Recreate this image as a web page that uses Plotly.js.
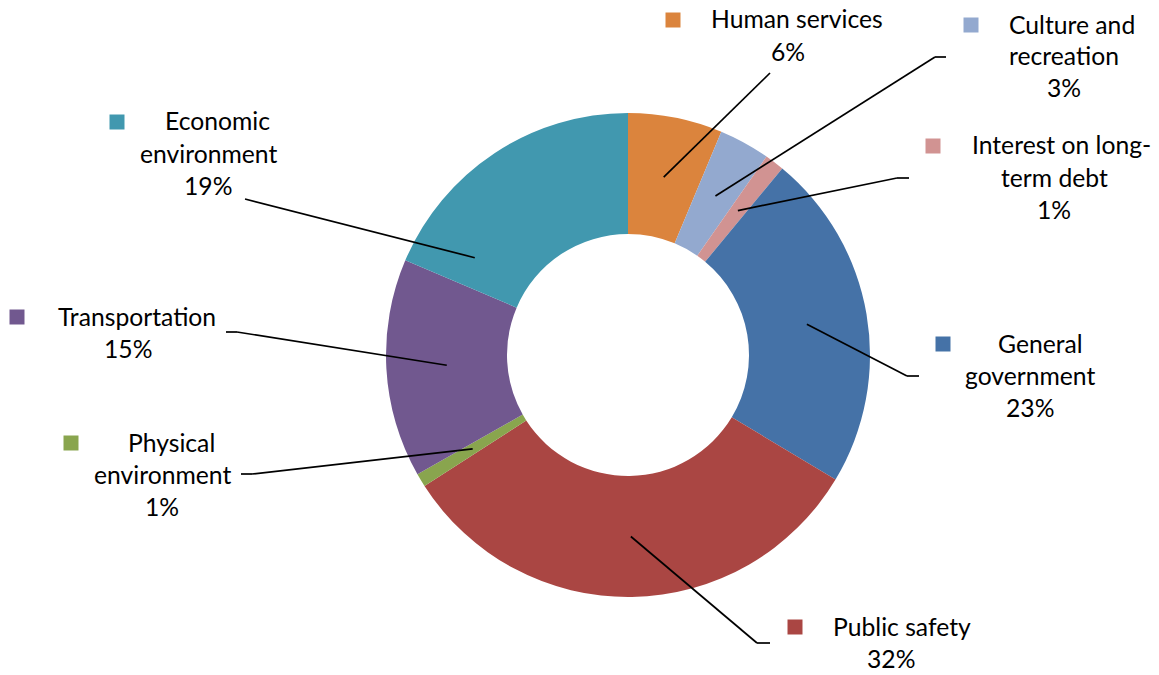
<!DOCTYPE html>
<html>
<head>
<meta charset="utf-8">
<script src="https://cdn.plot.ly/plotly-3.0.1.min.js"></script>
<style>html,body{margin:0;padding:0;background:#fff;}#chart{width:1159px;height:675px;}</style>
</head>
<body>
<div id="chart"></div>
<script>
// ---- data ----
var categories = ["Human services", "Culture and recreation", "Interest on long-term debt", "General government", "Public safety", "Physical environment", "Transportation", "Economic environment"];
var shares = [6.3, 3.4, 1.3, 22.6, 32.3, 0.9, 14.6, 18.6];
var labelLines = [["Human services"], ["Culture and", "recreation"], ["Interest on long-", "term debt"], ["General", "government"], ["Public safety"], ["Physical", "environment"], ["Transportation"], ["Economic", "environment"]];
var colors = ["#DB843D", "#93A9CF", "#D19392", "#4572A7", "#AA4643", "#89A54E", "#71588F", "#4198AF"];

// ---- layout (pixel positions) ----
var W = 1159, H = 675;
var CX = 628, CY = 355, R = 242, HOLE = 0.5;
var keyX = [673, 971, 933, 943, 795, 71, 17, 117];
var keyY = [20, 25, 146, 344, 627, 443, 317, 122];
var line1X = [797, 1072, 1061, 1040, 902, 171, 137, 217];
var restX = [788, 1064, 1054, 1030, 891, 162, 128, 208];
var elbowX = [770, 935, 897, 907, 757, 252, 237, 245];
var elbowY = [73, 57, 178, 376, 643, 474, 332, 199];
var endX = [770, 946, 909, 919, 770, 241, 226, 245];
var leaderPos = [0.5, 0.5, 0.5, 0.5, 0.5, 0.5, 0.5, 0.14];
var LINE = 32;
var FONT = "Lato, 'Open Sans', sans-serif";

function px(x) { return x / W; }
function py(y) { return 1 - y / H; }

var total = shares.reduce(function (a, b) { return a + b; }, 0);
var shapes = [], annotations = [];
var cum = 0;
for (var i = 0; i < categories.length; i++) {
  var a0 = cum / total * 2 * Math.PI;
  var a1 = (cum + shares[i]) / total * 2 * Math.PI;
  cum += shares[i];
  var a = a0 + (a1 - a0) * leaderPos[i];
  var rm = R * (1 + HOLE) / 2;
  var sx = CX + rm * Math.sin(a), sy = CY - rm * Math.cos(a);
  var ln = { color: "#000", width: 1.7 };
  shapes.push({ type: "line", xref: "paper", yref: "paper", x0: px(sx), y0: py(sy), x1: px(elbowX[i]), y1: py(elbowY[i]), line: ln });
  if (endX[i] !== elbowX[i]) {
    shapes.push({ type: "line", xref: "paper", yref: "paper", x0: px(elbowX[i]), y0: py(elbowY[i]), x1: px(endX[i]), y1: py(elbowY[i]), line: ln });
  }
  // legend key
  shapes.push({ type: "rect", xref: "paper", yref: "paper", x0: px(keyX[i] - 7.5), x1: px(keyX[i] + 7.5), y0: py(keyY[i] - 7.5), y1: py(keyY[i] + 7.5), fillcolor: colors[i], line: { width: 0 } });
  var pct = Math.round(shares[i] / total * 100) + "%";
  var lines = labelLines[i].concat([pct]);
  for (var k = 0; k < lines.length; k++) {
    annotations.push({
      xref: "paper", yref: "paper", showarrow: false,
      x: px(k === 0 ? line1X[i] : restX[i]), y: py(keyY[i] - 1 + LINE * k),
      xanchor: "center", yanchor: "middle",
      text: lines[k], font: { family: FONT, size: 24.7, color: "#000" }
    });
  }
}

var trace = {
  type: "pie",
  labels: categories,
  values: shares,
  sort: false,
  direction: "clockwise",
  rotation: 0,
  hole: HOLE,
  textinfo: "none",
  hoverinfo: "label+percent",
  marker: { colors: colors, line: { width: 0 } },
  domain: { x: [px(CX - R), px(CX + R)], y: [py(CY + R), py(CY - R)] },
  showlegend: false
};

Plotly.newPlot("chart", [trace], {
  width: W, height: H,
  margin: { l: 0, r: 0, t: 0, b: 0 },
  paper_bgcolor: "#fff",
  showlegend: false,
  shapes: shapes,
  annotations: annotations
}, { displayModeBar: false, staticPlot: true });
</script>
</body>
</html>
